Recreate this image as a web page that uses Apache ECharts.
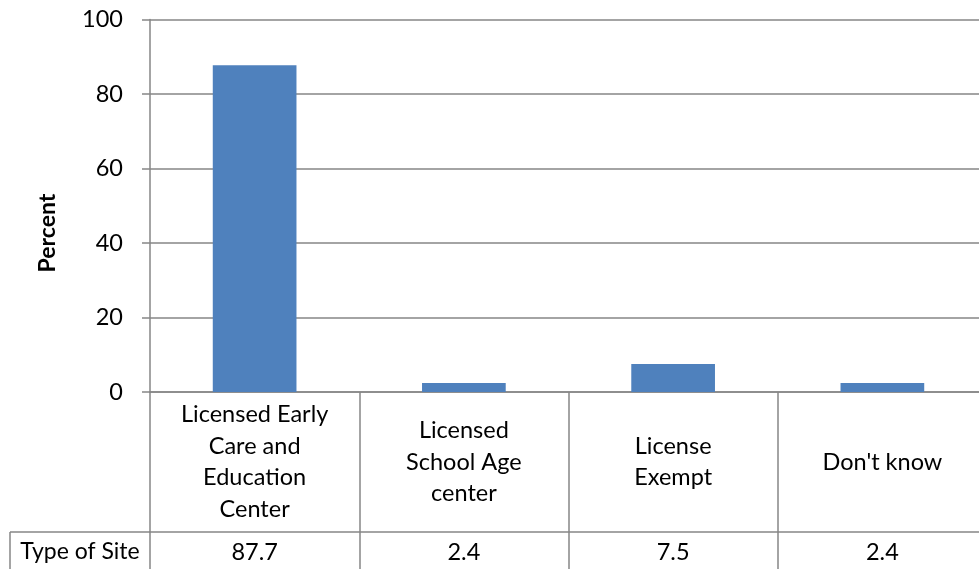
<!DOCTYPE html>
<html><head><meta charset="utf-8">
<script src="https://cdn.jsdelivr.net/npm/echarts@6/dist/echarts.min.js"></script>
<style>html,body{margin:0;padding:0;background:#fff}#c{width:979px;height:569px}</style>
</head><body><div id="c"></div>
<script>
const categories = ["Licensed Early\nCare and\nEducation\nCenter", "Licensed\nSchool Age\ncenter", "License\nExempt", "Don't know"];
const values = [87.7, 2.4, 7.5, 2.4];
const valueLabels = ["87.7", "2.4", "7.5", "2.4"];
const rowLabel = "Type of Site";
const yTitle = "Percent";
const yTicks = [0, 20, 40, 60, 80, 100];

const FONT = 'Lato';
const GRAY = '#868686';
const FS = 23.5;
const chart = echarts.init(document.getElementById('c'), null, {renderer: 'canvas'});
chart.setOption({
  animation: false,
  textStyle: {fontFamily: FONT},
  grid: {left: 150, right: -8, top: 19.5, bottom: 177, containLabel: false, outerBoundsMode: 'none'},
  xAxis: [{
    type: 'category', data: categories, position: 'bottom',
    axisLine: {show: true, lineStyle: {color: GRAY, width: 1.5}},
    axisTick: {show: true, length: 180, lineStyle: {color: GRAY, width: 1.5}},
    axisLabel: {color: '#000', fontSize: FS, lineHeight: 31.5, verticalAlign: 'middle', margin: 70, fontFamily: FONT}
  }, {
    type: 'category', data: valueLabels, position: 'bottom', offset: 140,
    axisLine: {show: true, lineStyle: {color: GRAY, width: 1.5}},
    axisTick: {show: false},
    axisLabel: {color: '#000', fontSize: FS, verticalAlign: 'middle', margin: 20, fontFamily: FONT}
  }],
  yAxis: {
    type: 'value', min: 0, max: 100, interval: 20,
    axisLine: {show: true, lineStyle: {color: GRAY, width: 1.5}},
    axisTick: {show: true, length: 8, lineStyle: {color: GRAY, width: 1.5}},
    axisLabel: {color: '#000', fontSize: FS, margin: 27, fontFamily: FONT,
      formatter: v => yTicks.includes(v) ? String(v) : ''},
    splitLine: {show: true, lineStyle: {color: GRAY, width: 1.5}}
  },
  series: [{
    type: 'bar', data: values, xAxisIndex: 0, barCategoryGap: '60%',
    itemStyle: {color: '#4F81BD'}
  }],
  graphic: [
    {type: 'line', shape: {x1: 10, y1: 532, x2: 150, y2: 532}, style: {stroke: GRAY, lineWidth: 1.5}},
    {type: 'line', shape: {x1: 10, y1: 532, x2: 10, y2: 569}, style: {stroke: GRAY, lineWidth: 1.5}},
    {type: 'text', x: 80, y: 552, style: {text: rowLabel, fontSize: 23, fontFamily: FONT, fill: '#000', align: 'center', verticalAlign: 'middle'}},
    {type: 'text', x: 48, y: 233, rotation: Math.PI / 2, style: {text: yTitle, fontSize: 23, fontWeight: 'bold', fontFamily: FONT, fill: '#000', align: 'center', verticalAlign: 'middle'}}
  ]
});
</script></body></html>
